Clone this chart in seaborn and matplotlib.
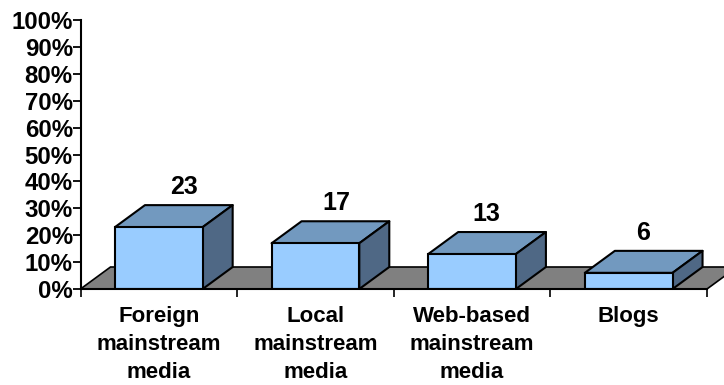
import matplotlib
matplotlib.use("Agg")
import matplotlib.pyplot as plt
from matplotlib.patches import Polygon
from matplotlib.ticker import FixedLocator, NullFormatter
import seaborn as sns
import pandas as pd

categories = ["Foreign\nmainstream\nmedia", "Local\nmainstream\nmedia",
              "Web-based\nmainstream\nmedia", "Blogs\n\n"]
values = [23, 17, 13, 6]
y_ticks = list(range(0, 101, 10))
y_tick_labels = [f"{v}%" for v in y_ticks]

W, H = 724, 385
L, R, T, B = 80.5, 707, 20, 289
DEPTH_X, DEPTH_Y = 30, 22
LABEL_DX = [25, 21, 14, 14]
LABEL_DY = 40
FRONT, TOP, SIDE, FLOOR = "#99CCFF", "#7299BF", "#4F6885", "#808080"
EDGE_LW = 1.5

sns.set_theme(style="white")
plt.rcParams["font.family"] = ["Liberation Sans", "DejaVu Sans"]
plt.rcParams["font.weight"] = "bold"

fig = plt.figure(figsize=(W / 100, H / 100), dpi=100, facecolor="white")
ax = fig.add_axes([L / W, 1 - B / H, (R - L) / W, (B - T) / H])

df = pd.DataFrame({"category": categories, "value": values})
sns.barplot(data=df, x="category", y="value", color=FRONT, saturation=1, width=0.56,
            edgecolor="black", linewidth=EDGE_LW, ax=ax, zorder=5)
ax.set_xlim(-0.5, 3.5)
ax.set_ylim(0, 100)
ax.set_xlabel("")
ax.set_ylabel("")

dx = DEPTH_X / ((R - L) / 4)
dy = DEPTH_Y / ((B - T) / 100)

# floor
ax.add_patch(Polygon([(-0.5, 0), (3.5, 0), (3.5 + dx, dy), (-0.5 + dx, dy)], closed=True,
                     facecolor=FLOOR, edgecolor="black", linewidth=1.2, zorder=1,
                     clip_on=False))

for bar, lx in zip(ax.patches[:len(values)], LABEL_DX):
    x0, w, h = bar.get_x(), bar.get_width(), bar.get_height()
    x1 = x0 + w
    ax.add_patch(Polygon([(x0, h), (x1, h), (x1 + dx, h + dy), (x0 + dx, h + dy)], closed=True,
                         facecolor=TOP, edgecolor="black", linewidth=EDGE_LW, zorder=4,
                         clip_on=False, joinstyle="round"))
    ax.add_patch(Polygon([(x1, 0), (x1, h), (x1 + dx, h + dy), (x1 + dx, dy)], closed=True,
                         facecolor=SIDE, edgecolor="black", linewidth=EDGE_LW, zorder=4,
                         clip_on=False, joinstyle="round"))
    ax.annotate(f"{int(h)}", xy=(x0 + w / 2, h), xytext=(lx * 0.72, LABEL_DY * 0.72),
                textcoords="offset points", ha="center", va="center",
                fontsize=18, fontweight="bold", color="black", zorder=6)

sns.despine(ax=ax)
for s in ("left", "bottom"):
    ax.spines[s].set_linewidth(1.5)
    ax.spines[s].set_color("black")
    ax.spines[s].set_zorder(7)

ax.set_yticks(y_ticks)
ax.set_yticklabels(y_tick_labels, fontsize=17.3, fontweight="bold", color="black")
ax.tick_params(axis="y", left=True, length=5.5, width=1.3, color="black", pad=0)

ax.xaxis.set_major_locator(FixedLocator([-0.5, 0.5, 1.5, 2.5, 3.5]))
ax.xaxis.set_major_formatter(NullFormatter())
ax.set_xticks([0, 1, 2, 3], minor=True)
ax.set_xticklabels(categories, minor=True, fontsize=16, fontweight="bold", color="black",
                   linespacing=1.42)
ax.tick_params(axis="x", which="major", bottom=True, length=5.5, width=1.2, color="black")
ax.tick_params(axis="x", which="minor", bottom=False, length=0, pad=12.5)

fig.savefig("out.png", dpi=100, facecolor="white")
